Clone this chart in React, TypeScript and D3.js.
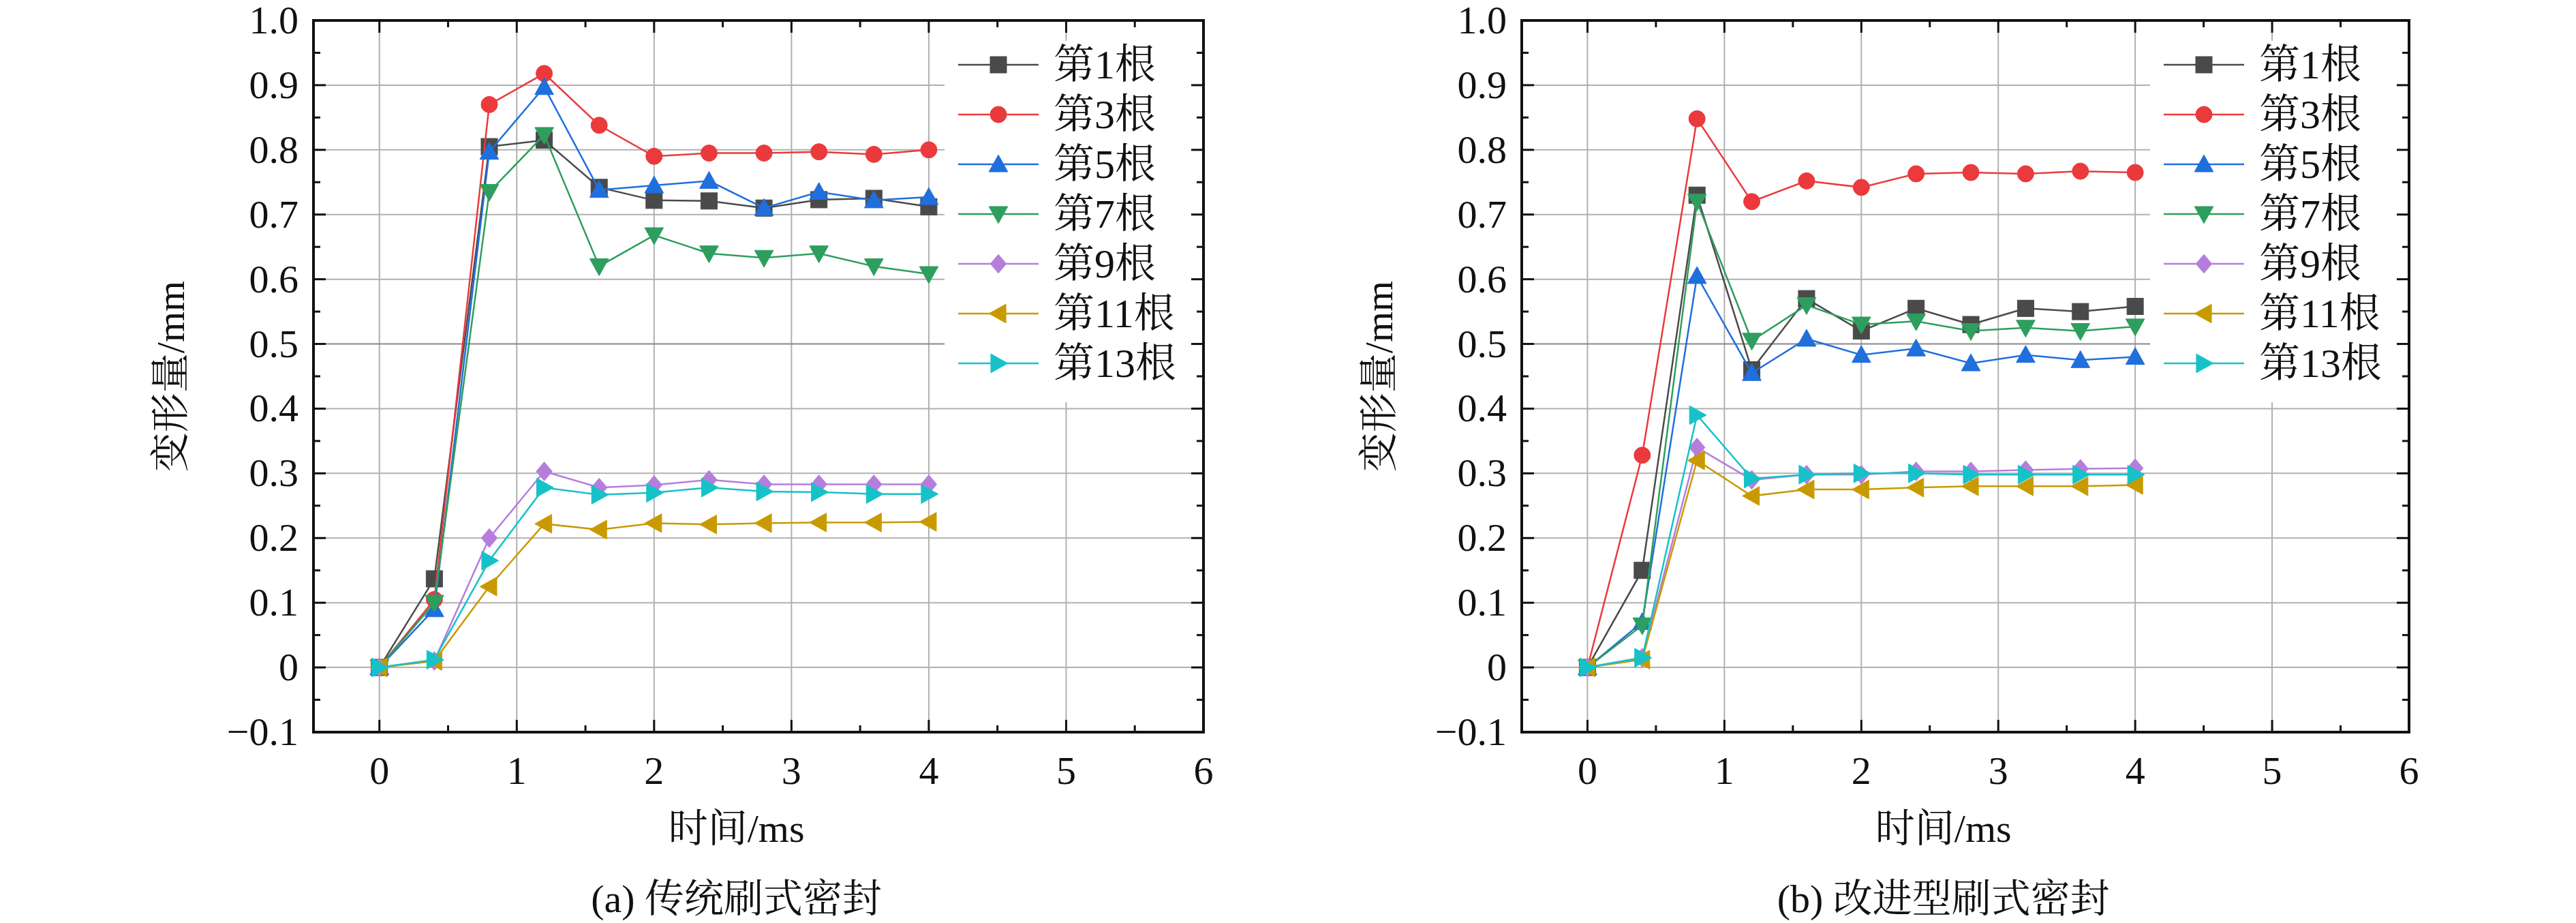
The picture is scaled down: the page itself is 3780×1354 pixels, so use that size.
import React from "react";
import * as d3 from "d3";

const times = [0, 0.4, 0.8, 1.2, 1.6, 2.0, 2.4, 2.8, 3.2, 3.6, 4.0];
const seriesNames = ["第1根", "第3根", "第5根", "第7根", "第9根", "第11根", "第13根"];
const colors = ["#4a4a4a", "#ea3a3c", "#1f6fdc", "#2e9e5e", "#b57edc", "#c89a00", "#16c2c8"];
const shapes = ["square", "circle", "up", "down", "diamond", "left", "right"];

const dataA = [
  [0, 0.137, 0.805, 0.815, 0.742, 0.722, 0.721, 0.71, 0.723, 0.725, 0.712],
  [0, 0.105, 0.87, 0.918, 0.838, 0.79, 0.795, 0.795, 0.797, 0.793, 0.8],
  [0, 0.09, 0.797, 0.897, 0.738, 0.745, 0.752, 0.71, 0.735, 0.722, 0.727],
  [0, 0.1, 0.735, 0.823, 0.62, 0.668, 0.64, 0.633, 0.64, 0.62, 0.608],
  [0, 0.01, 0.2, 0.303, 0.278, 0.282, 0.29, 0.283, 0.283, 0.283, 0.283],
  [0, 0.01, 0.125, 0.222, 0.213, 0.223, 0.221, 0.223, 0.224, 0.224, 0.225],
  [0, 0.012, 0.165, 0.278, 0.267, 0.27, 0.278, 0.272, 0.271, 0.268, 0.268],
];
const dataB = [
  [0, 0.15, 0.73, 0.46, 0.57, 0.52, 0.555, 0.53, 0.555, 0.55, 0.558],
  [0, 0.328, 0.848, 0.72, 0.752, 0.742, 0.763, 0.765, 0.763, 0.767, 0.765],
  [0, 0.07, 0.605, 0.455, 0.508, 0.483, 0.493, 0.47, 0.483, 0.475, 0.48],
  [0, 0.065, 0.72, 0.505, 0.56, 0.53, 0.535, 0.52, 0.525, 0.52, 0.527],
  [0, 0.015, 0.34, 0.29, 0.298, 0.298, 0.303, 0.303, 0.305, 0.307, 0.308],
  [0, 0.012, 0.32, 0.265, 0.275, 0.275, 0.278, 0.28, 0.28, 0.28, 0.282],
  [0, 0.015, 0.39, 0.292, 0.298, 0.3, 0.3, 0.298, 0.298, 0.298, 0.298],
];
const xTicks = [0, 1, 2, 3, 4, 5, 6];
const yTicks = [-0.1, 0, 0.1, 0.2, 0.3, 0.4, 0.5, 0.6, 0.7, 0.8, 0.9, 1.0];
const captions = ["(a) 传统刷式密封", "(b) 改进型刷式密封"];

const FONT = "Liberation Serif, DejaVu Serif, Noto Serif CJK SC, Noto Sans CJK SC, serif";

function Marker({ shape, x, y, color }: { shape: string; x: number; y: number; color: string }) {
  const r = 12;
  let el: React.ReactNode;
  const t = r * 1.15;
  switch (shape) {
    case "square":
      el = <rect x={x - r} y={y - r} width={2 * r} height={2 * r} />;
      break;
    case "circle":
      el = <circle cx={x} cy={y} r={r} />;
      break;
    case "up":
      el = <polygon points={`${x},${y - t} ${x + t},${y + t * 0.8} ${x - t},${y + t * 0.8}`} />;
      break;
    case "down":
      el = <polygon points={`${x},${y + t} ${x + t},${y - t * 0.8} ${x - t},${y - t * 0.8}`} />;
      break;
    case "diamond":
      el = <polygon points={`${x},${y - t} ${x + t * 0.85},${y} ${x},${y + t} ${x - t * 0.85},${y}`} />;
      break;
    case "left":
      el = <polygon points={`${x - t},${y} ${x + t * 0.8},${y - t} ${x + t * 0.8},${y + t}`} />;
      break;
    default:
      el = <polygon points={`${x + t},${y} ${x - t * 0.8},${y - t} ${x - t * 0.8},${y + t}`} />;
  }
  return <g fill={color} stroke={color} strokeWidth={1}>{el}</g>;
}

function Panel({ left, right, data, caption }: { left: number; right: number; data: number[][]; caption: string }) {
  const top = 30, bottom = 1074;
  const x = d3.scaleLinear().domain([-0.48, 6]).range([left, right]);
  const y = d3.scaleLinear().domain([-0.1, 1.0]).range([bottom, top]);
  const line = d3.line<number>().x((_, i) => x(times[i])).y((v) => y(v));
  const minorX = d3.range(-0.5, 6.01, 0.5).filter((v) => v > -0.48 && !Number.isInteger(v));
  const minorY = d3.range(-0.05, 1.0, 0.1);
  const legX = right - 360;
  return (
    <g fontFamily={FONT} style={{ fontFamily: FONT }}>
      {xTicks.map((t) => (
        <line key={"gx" + t} x1={x(t)} x2={x(t)} y1={top} y2={bottom} stroke="#b0b0b0" strokeWidth={2} />
      ))}
      {yTicks.map((t) => (
        <line key={"gy" + t} x1={left} x2={right} y1={y(t)} y2={y(t)} stroke={t === 0.5 ? "#888" : "#b0b0b0"} strokeWidth={2} />
      ))}
      {data.map((s, k) => (
        <g key={"s" + k}>
          <path d={line(s) || ""} fill="none" stroke={colors[k]} strokeWidth={2.5} />
          {s.map((v, i) => (
            <Marker key={i} shape={shapes[k]} x={x(times[i])} y={y(v)} color={colors[k]} />
          ))}
        </g>
      ))}
      <rect x={legX - 20} y={top + 30} width={right - legX + 14} height={530} fill="white" />
      {seriesNames.map((n, k) => {
        const yy = 95 + k * 73;
        return (
          <g key={"l" + k}>
            <line x1={legX} x2={legX + 118} y1={yy} y2={yy} stroke={colors[k]} strokeWidth={2.5} />
            <Marker shape={shapes[k]} x={legX + 59} y={yy} color={colors[k]} />
            <text x={legX + 140} y={yy + 20} fontSize={60} fill="#111">{n}</text>
          </g>
        );
      })}
      <rect x={left} y={top} width={right - left} height={bottom - top} fill="none" stroke="#111" strokeWidth={4} />
      {xTicks.map((t) => (
        <g key={"tx" + t}>
          <line x1={x(t)} x2={x(t)} y1={bottom} y2={bottom - 18} stroke="#111" strokeWidth={3} />
          <line x1={x(t)} x2={x(t)} y1={top} y2={top + 18} stroke="#111" strokeWidth={3} />
          <text x={x(t)} y={bottom + 76} textAnchor="middle" fontSize={58} fill="#111">{t}</text>
        </g>
      ))}
      {minorX.map((t) => (
        <g key={"mx" + t}>
          <line x1={x(t)} x2={x(t)} y1={bottom} y2={bottom - 10} stroke="#111" strokeWidth={3} />
          <line x1={x(t)} x2={x(t)} y1={top} y2={top + 10} stroke="#111" strokeWidth={3} />
        </g>
      ))}
      {yTicks.map((t) => (
        <g key={"ty" + t}>
          <line x1={left} x2={left + 18} y1={y(t)} y2={y(t)} stroke="#111" strokeWidth={3} />
          <line x1={right} x2={right - 18} y1={y(t)} y2={y(t)} stroke="#111" strokeWidth={3} />
          <text x={left - 22} y={y(t) + 19} textAnchor="end" fontSize={58} fill="#111">
            {t === 0 ? "0" : t < 0 ? "−0.1" : t.toFixed(1)}
          </text>
        </g>
      ))}
      {minorY.map((t) => (
        <g key={"my" + t}>
          <line x1={left} x2={left + 10} y1={y(t)} y2={y(t)} stroke="#111" strokeWidth={3} />
          <line x1={right} x2={right - 10} y1={y(t)} y2={y(t)} stroke="#111" strokeWidth={3} />
        </g>
      ))}
      <text transform={`translate(${left - 190},${(top + bottom) / 2}) rotate(-90)`} textAnchor="middle" fontSize={58} fill="#111">变形量/mm</text>
      <text x={x(2.5) + 20} y={1235} textAnchor="middle" fontSize={58} fill="#111">时间/ms</text>
      <text x={x(2.5) + 20} y={1338} textAnchor="middle" fontSize={58} fill="#111">{caption}</text>
    </g>
  );
}

export default function App() {
  return (
    <svg width={3780} height={1354} style={{ position: "absolute", left: 0, top: 0, background: "white" }}>
      <rect width={3780} height={1354} fill="white" />
      <Panel left={460} right={1766} data={dataA} caption={captions[0]} />
      <Panel left={2233} right={3535} data={dataB} caption={captions[1]} />
    </svg>
  );
}
